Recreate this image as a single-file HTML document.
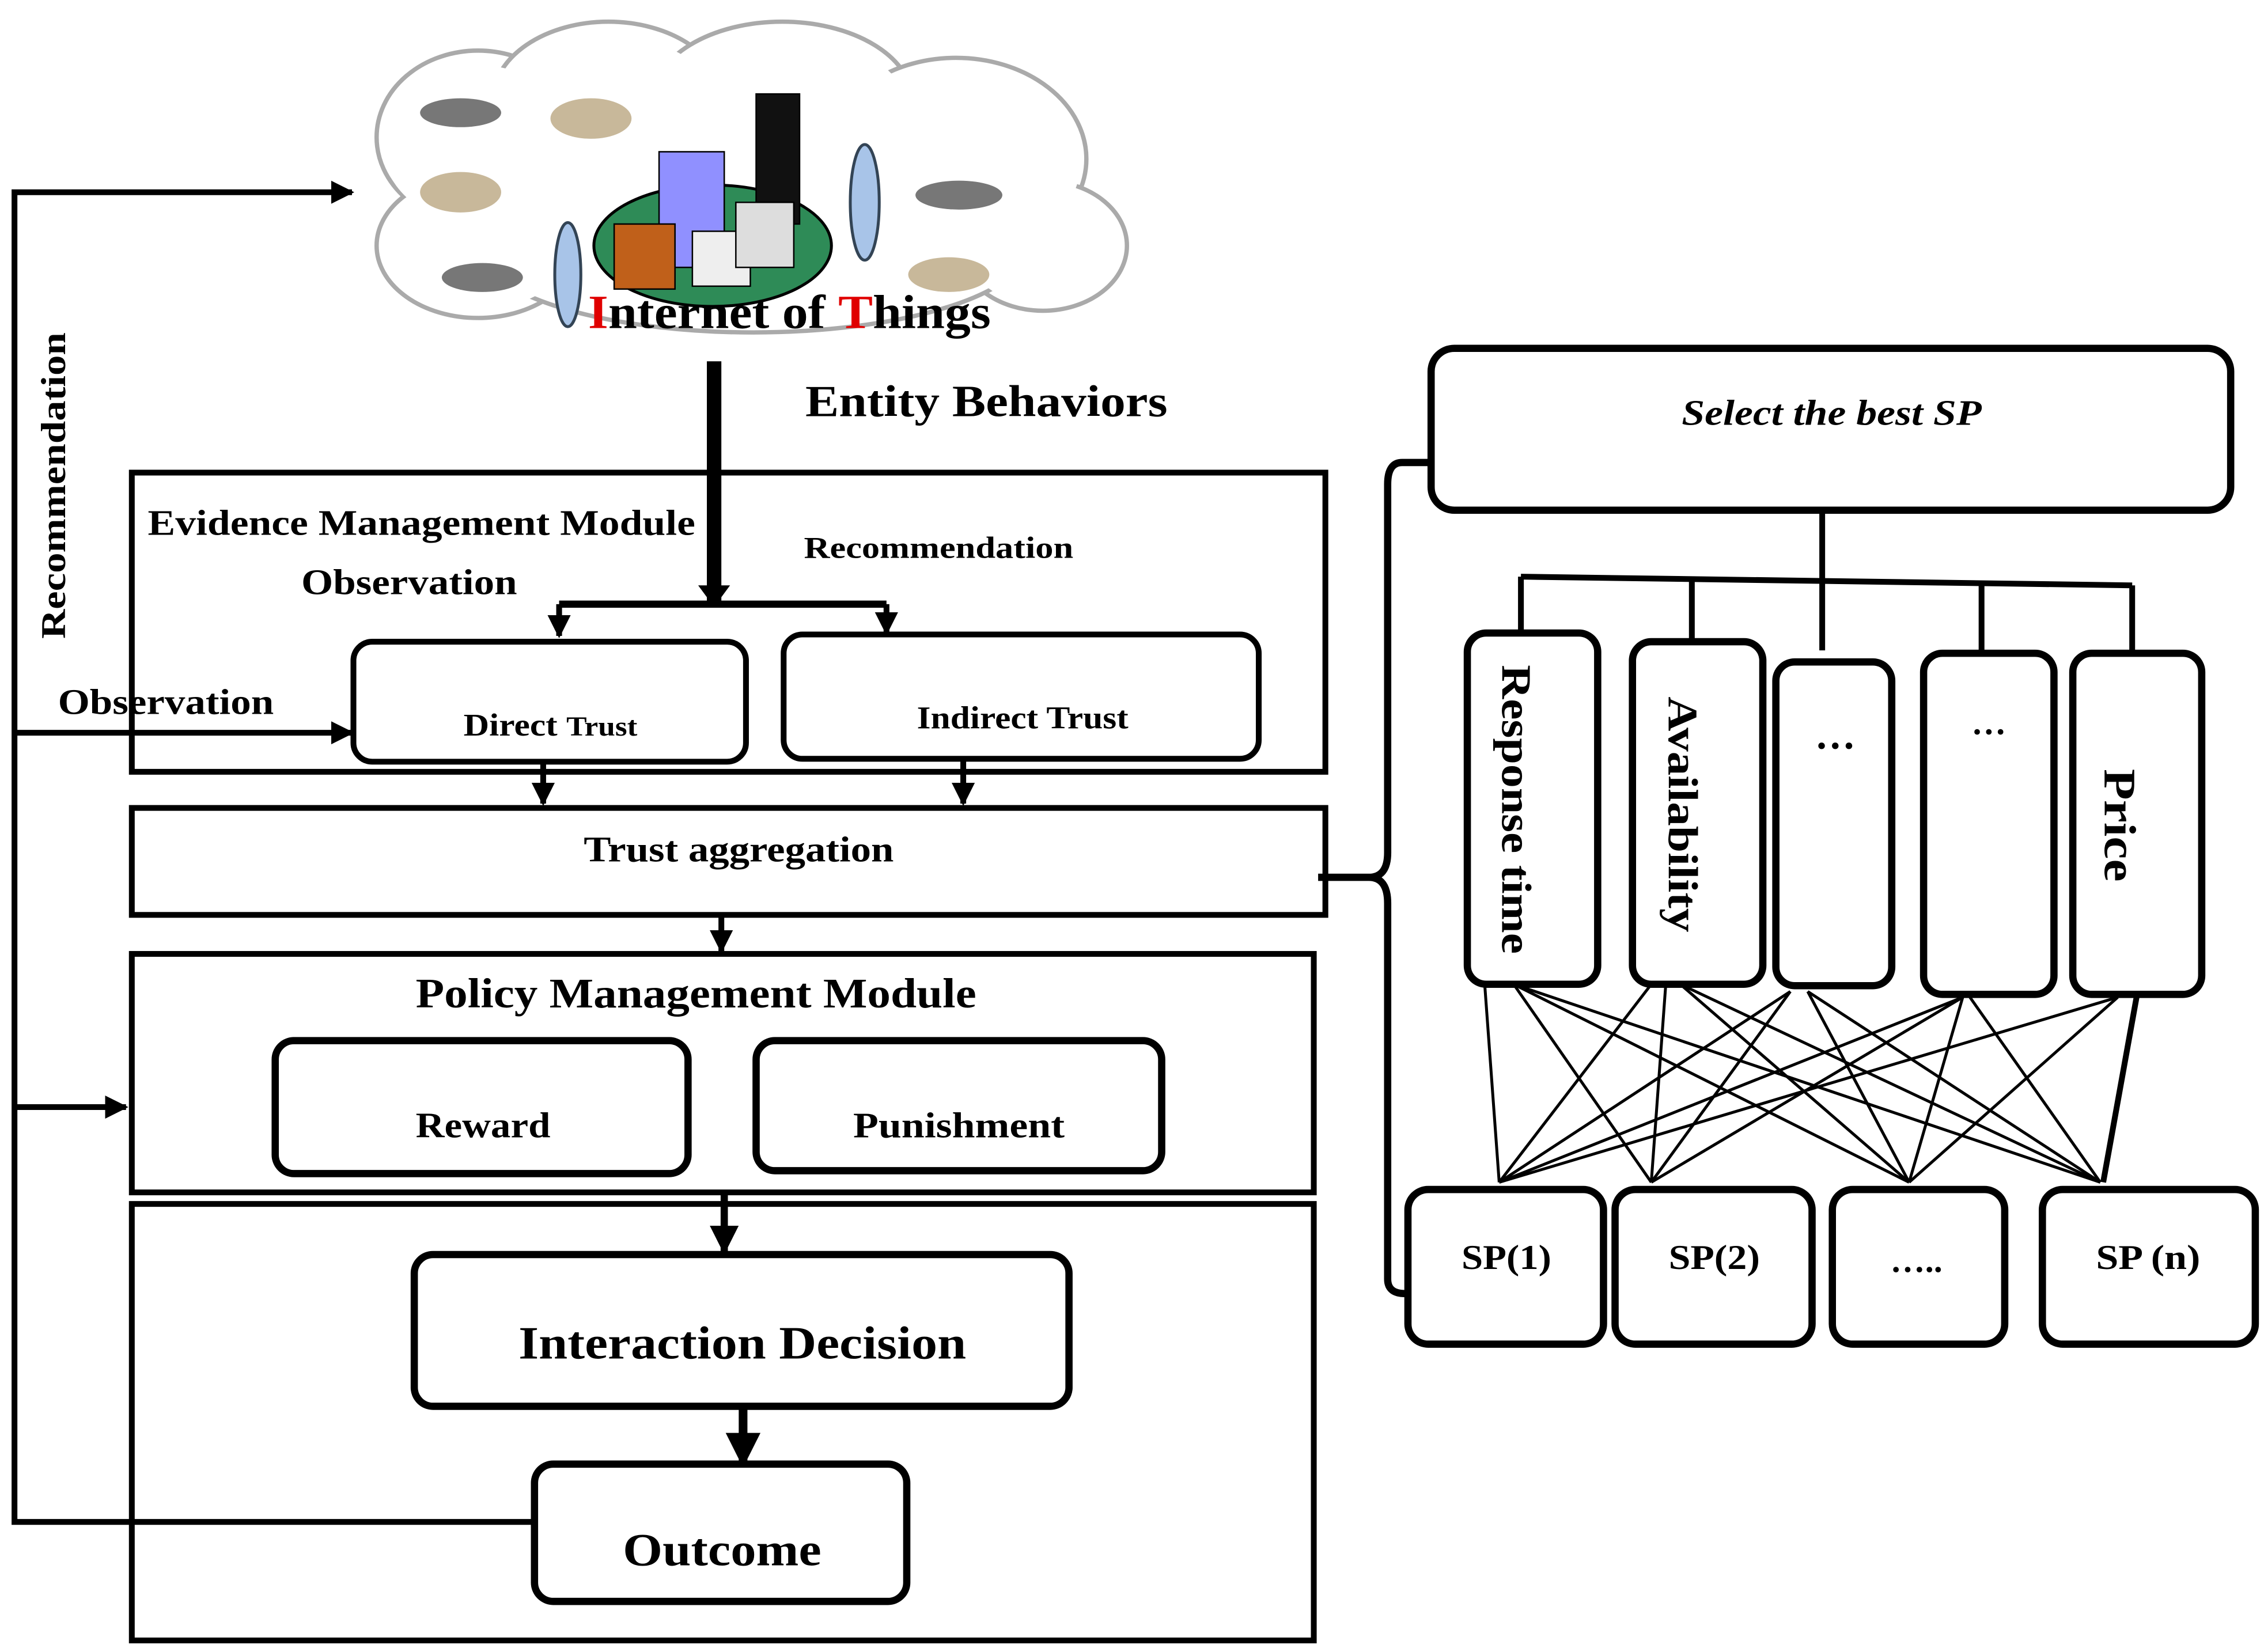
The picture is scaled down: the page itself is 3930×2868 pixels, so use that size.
<!DOCTYPE html>
<html><head><meta charset="utf-8"><style>
html,body{margin:0;padding:0;background:#fff;}
svg{display:block;}
text{font-family:"Liberation Serif",serif;font-weight:bold;fill:#000;}
</style></head><body>
<svg width="3930" height="2868" viewBox="0 0 1563 1143" preserveAspectRatio="none" xmlns="http://www.w3.org/2000/svg">
<defs>
<marker id="ah" viewBox="0 0 10 10" refX="9" refY="5" markerWidth="4" markerHeight="4" orient="auto"><path d="M0,0 L10,5 L0,10 z" fill="#000"/></marker>
</defs>
<!-- cloud -->
<g fill="#fff" stroke="#aaa" stroke-width="3">
<ellipse cx="330" cy="95" rx="70" ry="60"/>
<ellipse cx="420" cy="70" rx="80" ry="55"/>
<ellipse cx="540" cy="70" rx="90" ry="55"/>
<ellipse cx="660" cy="110" rx="90" ry="70"/>
<ellipse cx="720" cy="170" rx="58" ry="45"/>
<ellipse cx="330" cy="170" rx="70" ry="50"/>
<ellipse cx="520" cy="170" rx="190" ry="60"/>
</g>
<g fill="#fff" stroke="none">
<ellipse cx="330" cy="100" rx="66" ry="55"/>
<ellipse cx="420" cy="75" rx="76" ry="50"/>
<ellipse cx="540" cy="75" rx="86" ry="50"/>
<ellipse cx="660" cy="112" rx="86" ry="66"/>
<ellipse cx="720" cy="170" rx="54" ry="41"/>
<ellipse cx="330" cy="168" rx="66" ry="46"/>
<ellipse cx="520" cy="168" rx="186" ry="56"/>
<rect x="300" y="100" width="400" height="80"/>
</g>
<!-- city -->
<ellipse cx="492" cy="170" rx="82" ry="42" fill="#2e8b57" stroke="#000" stroke-width="2"/>
<rect x="455" y="105" width="45" height="80" fill="#9090ff" stroke="#000"/>
<rect x="522" y="65" width="30" height="90" fill="#111" stroke="#000"/>
<rect x="424" y="155" width="42" height="45" fill="#c0601a" stroke="#000"/>
<rect x="478" y="160" width="40" height="38" fill="#eee" stroke="#000"/>
<rect x="508" y="140" width="40" height="45" fill="#ddd" stroke="#000"/>
<ellipse cx="597" cy="140" rx="10" ry="40" fill="#a8c4e8" stroke="#345" stroke-width="2"/>
<ellipse cx="392" cy="190" rx="9" ry="36" fill="#a8c4e8" stroke="#345" stroke-width="2"/>
<!-- drones -->
<g fill="#777">
<ellipse cx="318" cy="78" rx="28" ry="10"/><ellipse cx="408" cy="82" rx="28" ry="14" fill="#c8b89a"/>
<ellipse cx="318" cy="133" rx="28" ry="14" fill="#c8b89a"/><ellipse cx="333" cy="192" rx="28" ry="10"/>
<ellipse cx="662" cy="135" rx="30" ry="10"/><ellipse cx="655" cy="190" rx="28" ry="12" fill="#c8b89a"/>
</g>
<text x="406" y="227" font-size="33" textLength="278" lengthAdjust="spacingAndGlyphs"><tspan fill="#e00000">I</tspan>nternet of <tspan fill="#e00000">T</tspan>hings</text>
<text x="556" y="288" font-size="31" textLength="250" lengthAdjust="spacingAndGlyphs">Entity Behaviors</text>
<!-- left loop -->
<g stroke="#000" stroke-width="4" fill="none">
<polyline points="378,1053 10,1053 10,133 243,133" marker-end="url(#ah)"/>
<line x1="10" y1="507" x2="243" y2="507" marker-end="url(#ah)"/>
<line x1="10" y1="766" x2="87" y2="766" marker-end="url(#ah)"/>
</g>
<text transform="translate(45,442) rotate(-90)" font-size="24" textLength="212" lengthAdjust="spacingAndGlyphs">Recommendation</text>
<text x="40" y="494" font-size="25" textLength="149" lengthAdjust="spacingAndGlyphs">Observation</text>
<!-- evidence -->
<rect x="91" y="327" width="824" height="207" fill="none" stroke="#000" stroke-width="4"/>
<line x1="493" y1="250" x2="493" y2="416" stroke="#000" stroke-width="10"/>
<path d="M482,405 L504,405 L493,420 z"/>
<line x1="386" y1="418" x2="612" y2="418" stroke="#000" stroke-width="5"/>
<line x1="386" y1="418" x2="386" y2="440" stroke="#000" stroke-width="4" marker-end="url(#ah)"/>
<line x1="612" y1="418" x2="612" y2="438" stroke="#000" stroke-width="4" marker-end="url(#ah)"/>
<text x="102" y="370" font-size="25" textLength="378" lengthAdjust="spacingAndGlyphs">Evidence Management Module</text>
<text x="208" y="411" font-size="25" textLength="149" lengthAdjust="spacingAndGlyphs">Observation</text>
<text x="555" y="386" font-size="21" textLength="186" lengthAdjust="spacingAndGlyphs">Recommendation</text>
<g fill="#fff" stroke="#000" stroke-width="4">
<rect x="244" y="444" width="271" height="83" rx="13"/>
<rect x="541" y="439" width="328" height="86" rx="13"/>
</g>
<text x="320" y="509" font-size="22" textLength="120" lengthAdjust="spacingAndGlyphs">Direct <tspan font-size="19">Trust</tspan></text>
<text x="633" y="504" font-size="22" textLength="146" lengthAdjust="spacingAndGlyphs">Indirect Trust</text>
<line x1="375" y1="527" x2="375" y2="556" stroke="#000" stroke-width="4" marker-end="url(#ah)"/>
<line x1="665" y1="525" x2="665" y2="556" stroke="#000" stroke-width="4" marker-end="url(#ah)"/>
<!-- aggregation -->
<rect x="91" y="559" width="824" height="74" fill="none" stroke="#000" stroke-width="4"/>
<text x="403" y="596" font-size="25" textLength="214" lengthAdjust="spacingAndGlyphs">Trust aggregation</text>
<line x1="498" y1="633" x2="498" y2="658" stroke="#000" stroke-width="4" marker-end="url(#ah)"/>
<!-- policy -->
<rect x="91" y="660" width="816" height="165" fill="none" stroke="#000" stroke-width="4"/>
<text x="287" y="697" font-size="29" textLength="387" lengthAdjust="spacingAndGlyphs">Policy Management Module</text>
<g fill="#fff" stroke="#000" stroke-width="5">
<rect x="190" y="720" width="285" height="92" rx="13"/>
<rect x="522" y="720" width="280" height="90" rx="13"/>
</g>
<text x="287" y="787" font-size="25" textLength="93" lengthAdjust="spacingAndGlyphs">Reward</text>
<text x="589" y="787" font-size="25" textLength="146" lengthAdjust="spacingAndGlyphs">Punishment</text>
<line x1="500" y1="825" x2="500" y2="866" stroke="#000" stroke-width="5" marker-end="url(#ah)"/>
<!-- decision -->
<rect x="91" y="833" width="816" height="302" fill="none" stroke="#000" stroke-width="4"/>
<g fill="#fff" stroke="#000" stroke-width="5">
<rect x="286" y="868" width="452" height="105" rx="13"/>
<rect x="369" y="1013" width="257" height="95" rx="13"/>
</g>
<text x="358" y="940" font-size="32" textLength="309" lengthAdjust="spacingAndGlyphs">Interaction Decision</text>
<line x1="513" y1="973" x2="513" y2="1013" stroke="#000" stroke-width="6" marker-end="url(#ah)"/>
<text x="430" y="1083" font-size="32" textLength="137" lengthAdjust="spacingAndGlyphs">Outcome</text>
<!-- brace -->
<path d="M988,320 L968,320 Q958,320 958,335 L958,590 Q958,607 945,607 L910,607 M945,607 Q958,607 958,625 L958,885 Q958,895 970,895" fill="none" stroke="#000" stroke-width="5"/>
<!-- right -->
<rect x="988" y="241" width="552" height="112" rx="16" fill="#fff" stroke="#000" stroke-width="5"/>
<text x="1161" y="294" font-size="25" font-style="italic" font-weight="normal" textLength="207" lengthAdjust="spacingAndGlyphs">Select the best SP</text>
<g stroke="#000" stroke-width="4" fill="none">
<line x1="1258" y1="353" x2="1258" y2="450"/>
<line x1="1050" y1="399" x2="1472" y2="405"/>
<line x1="1050" y1="399" x2="1050" y2="440"/>
<line x1="1168" y1="401" x2="1168" y2="445"/>
<line x1="1368" y1="404" x2="1368" y2="452"/>
<line x1="1472" y1="405" x2="1472" y2="452"/>
</g>
<g fill="#fff" stroke="#000" stroke-width="5">
<rect x="1013" y="438" width="90" height="243" rx="13"/>
<rect x="1127" y="444" width="90" height="237" rx="13"/>
<rect x="1226" y="458" width="80" height="224" rx="13"/>
<rect x="1328" y="452" width="90" height="236" rx="13"/>
<rect x="1431" y="452" width="89" height="236" rx="13"/>
</g>
<text transform="translate(1037,460) rotate(90)" font-size="29" font-weight="normal" textLength="200" lengthAdjust="spacingAndGlyphs">Response time</text>
<text transform="translate(1152,482) rotate(90)" font-size="29" font-weight="normal" textLength="163" lengthAdjust="spacingAndGlyphs">Availability</text>
<text x="1267" y="518" font-size="28" text-anchor="middle">…</text>
<text x="1373" y="508" font-size="24" text-anchor="middle">…</text>
<text transform="translate(1453,532) rotate(90)" font-size="31" textLength="78" lengthAdjust="spacingAndGlyphs">Price</text>
<g stroke="#000" stroke-width="2">
<line x1="1025" y1="681" x2="1035" y2="818"/><line x1="1045" y1="681" x2="1140" y2="818"/><line x1="1045" y1="681" x2="1318" y2="818"/><line x1="1045" y1="681" x2="1450" y2="818"/>
<line x1="1140" y1="681" x2="1035" y2="818"/><line x1="1150" y1="681" x2="1140" y2="818"/><line x1="1160" y1="681" x2="1318" y2="818"/><line x1="1160" y1="681" x2="1450" y2="818"/>
<line x1="1236" y1="686" x2="1035" y2="818"/><line x1="1236" y1="686" x2="1140" y2="818"/><line x1="1248" y1="686" x2="1450" y2="818"/><line x1="1248" y1="686" x2="1318" y2="818"/>
<line x1="1355" y1="690" x2="1035" y2="818"/><line x1="1355" y1="690" x2="1318" y2="818"/><line x1="1360" y1="690" x2="1450" y2="818"/><line x1="1355" y1="690" x2="1140" y2="818"/>
<line x1="1462" y1="690" x2="1035" y2="818"/><line x1="1462" y1="690" x2="1318" y2="818"/>
</g>
<line x1="1475" y1="690" x2="1452" y2="818" stroke="#000" stroke-width="4"/>
<g fill="#fff" stroke="#000" stroke-width="5">
<rect x="972" y="823" width="135" height="107" rx="14"/>
<rect x="1115" y="823" width="136" height="107" rx="14"/>
<rect x="1265" y="823" width="119" height="107" rx="14"/>
<rect x="1410" y="823" width="147" height="107" rx="14"/>
</g>
<text x="1009" y="878" font-size="24" textLength="62" lengthAdjust="spacingAndGlyphs">SP(1)</text>
<text x="1152" y="878" font-size="24" textLength="63" lengthAdjust="spacingAndGlyphs">SP(2)</text>
<text x="1323" y="880" font-size="24" text-anchor="middle">…..</text>
<text x="1447" y="878" font-size="24" textLength="72" lengthAdjust="spacingAndGlyphs">SP (n)</text>
</svg>
</body></html>
